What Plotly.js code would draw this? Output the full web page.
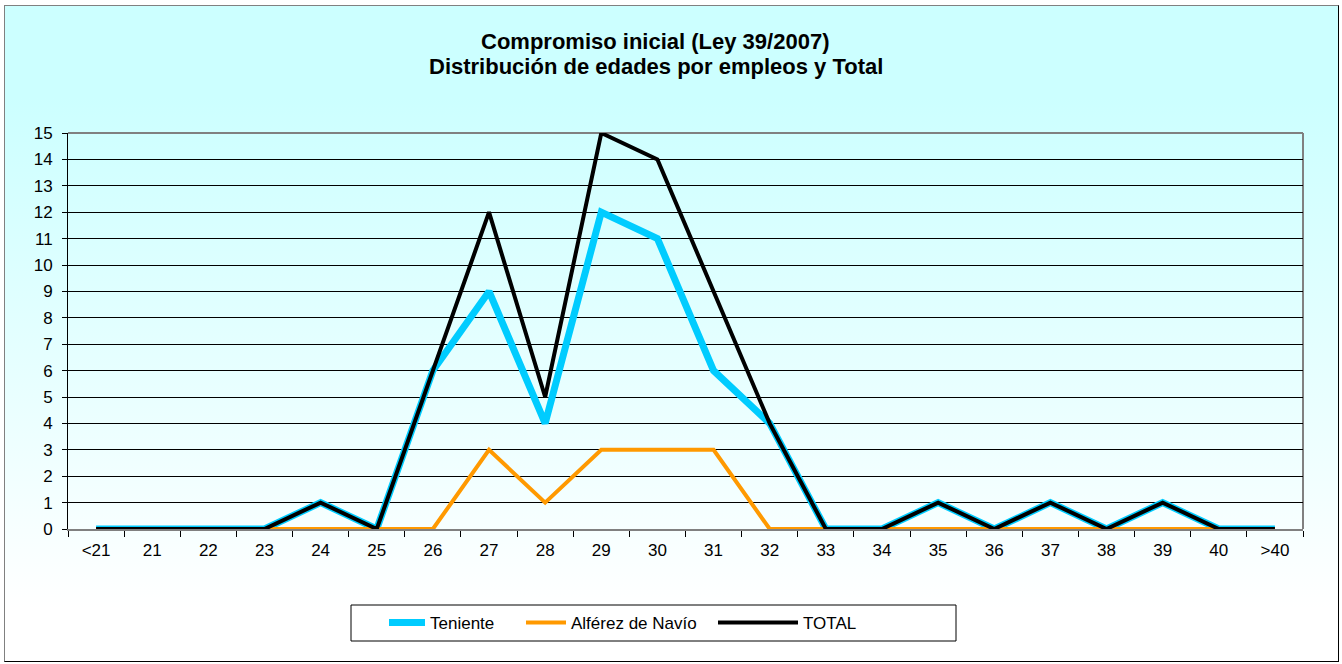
<!DOCTYPE html>
<html>
<head>
<meta charset="utf-8">
<script src="https://cdn.plot.ly/plotly-3.0.1.min.js"></script>
<style>
  html, body { margin: 0; padding: 0; background: #ffffff; }
  #wrap { position: relative; width: 1342px; height: 664px; }
  #bg { position: absolute; left: 4px; top: 5px; width: 1333px; height: 655px;
        border-left: 1px solid #808080; border-top: 1px solid #808080;
        border-right: 1px solid #000000; border-bottom: 1px solid #000000;
        background: linear-gradient(to bottom, #CCFFFF 0%, #CCFFFF 14%, #E6FFFF 55%, #FFFFFF 92%); }
  #chart { position: absolute; left: 0; top: 0; width: 1342px; height: 664px; }
</style>
</head>
<body>
<div id="wrap">
  <div id="bg"></div>
  <div id="chart"></div>
</div>
<script>
const categories = ['<21','21','22','23','24','25','26','27','28','29','30','31','32','33','34','35','36','37','38','39','40','>40'];
const teniente   = [0,0,0,0,1,0,6,9,4,12,11,6,4,0,0,1,0,1,0,1,0,0];
const alferez    = [0,0,0,0,0,0,0,3,1,3,3,3,0,0,0,0,0,0,0,0,0,0];
const total      = [0,0,0,0,1,0,6,12,5,15,14,9,4,0,0,1,0,1,0,1,0,0];
const seriesNames = ['Teniente', 'Alférez de Navío', 'TOTAL'];
const titleLines = ['Compromiso inicial (Ley 39/2007)', 'Distribución de edades por empleos y Total'];
const yTicks = [0,1,2,3,4,5,6,7,8,9,10,11,12,13,14,15];

const font = 'Arial, "Liberation Sans", sans-serif';
const W = 1342, H = 664;
const M = { l: 68, r: 39, t: 133, b: 135 };
const PW = W - M.l - M.r, PH = H - M.t - M.b;
const px = v => (v - M.l) / PW;          // container px -> paper x
const py = v => (H - M.b - v) / PH;      // container px -> paper y

const traces = [
  { x: categories, y: teniente, name: seriesNames[0], type: 'scatter', mode: 'lines',
    line: { color: '#00CCFF', width: 7 }, legend: 'legend' },
  { x: categories, y: alferez, name: seriesNames[1], type: 'scatter', mode: 'lines',
    line: { color: '#FF9900', width: 4 }, legend: 'legend2' },
  { x: categories, y: total, name: seriesNames[2], type: 'scatter', mode: 'lines',
    line: { color: '#000000', width: 4 }, legend: 'legend3' }
];

const legendBase = {
  orientation: 'h',
  xref: 'container', yref: 'container',
  xanchor: 'left', yanchor: 'middle',
  y: 1 - 623/H,
  bgcolor: 'rgba(0,0,0,0)', borderwidth: 0,
  font: { family: font, size: 17, color: '#000000' }
};

const layout = {
  width: W, height: H,
  paper_bgcolor: 'rgba(0,0,0,0)',
  plot_bgcolor: 'rgba(0,0,0,0)',
  margin: M,
  font: { family: font, color: '#000000', size: 17 },
  annotations: [
    { text: '<b>' + titleLines[0] + '</b>', xref: 'paper', yref: 'paper',
      x: px(655), y: py(42), xanchor: 'center', yanchor: 'middle', showarrow: false,
      font: { family: font, size: 22, color: '#000000' } },
    { text: '<b>' + titleLines[1] + '</b>', xref: 'paper', yref: 'paper',
      x: px(656), y: py(66), xanchor: 'center', yanchor: 'middle', showarrow: false,
      font: { family: font, size: 22, color: '#000000' } }
  ],
  xaxis: {
    type: 'category',
    range: [-0.5, categories.length - 0.5],
    tickson: 'boundaries',
    ticks: 'outside', ticklen: 6, tickcolor: '#000000', tickwidth: 1,
    showline: true, linecolor: '#808080', linewidth: 2,
    showgrid: false, zeroline: false,
    tickfont: { family: font, size: 17, color: '#000000' },
    ticklabelstandoff: 5,
    fixedrange: true
  },
  yaxis: {
    range: [0, 15],
    tickvals: yTicks,
    ticks: 'outside', ticklen: 5, tickcolor: '#000000', tickwidth: 1,
    showline: true, linecolor: '#000000', linewidth: 1,
    showgrid: true, gridcolor: '#000000', gridwidth: 1,
    zeroline: false,
    tickfont: { family: font, size: 17, color: '#000000' },
    ticklabelstandoff: 6,
    fixedrange: true
  },
  shapes: [
    { type: 'line', xref: 'paper', yref: 'paper', x0: 0, x1: 1, y0: 1, y1: 1,
      line: { color: '#808080', width: 2 }, layer: 'below' },
    { type: 'line', xref: 'paper', yref: 'paper', x0: 1, x1: 1, y0: 0, y1: 1,
      line: { color: '#808080', width: 2 }, layer: 'below' },
    { type: 'rect', xref: 'paper', yref: 'paper',
      x0: px(351), x1: px(956), y0: py(641), y1: py(605),
      fillcolor: '#FFFFFF', line: { color: '#000000', width: 1 }, layer: 'below' }
  ],
  showlegend: true,
  legend:  Object.assign({}, legendBase, { x: 384/W, itemwidth: 36 }),
  legend2: Object.assign({}, legendBase, { x: 521/W, itemwidth: 40 }),
  legend3: Object.assign({}, legendBase, { x: 713/W, itemwidth: 80 })
};

Plotly.newPlot('chart', traces, layout, { displayModeBar: false, staticPlot: true });
</script>
</body>
</html>
